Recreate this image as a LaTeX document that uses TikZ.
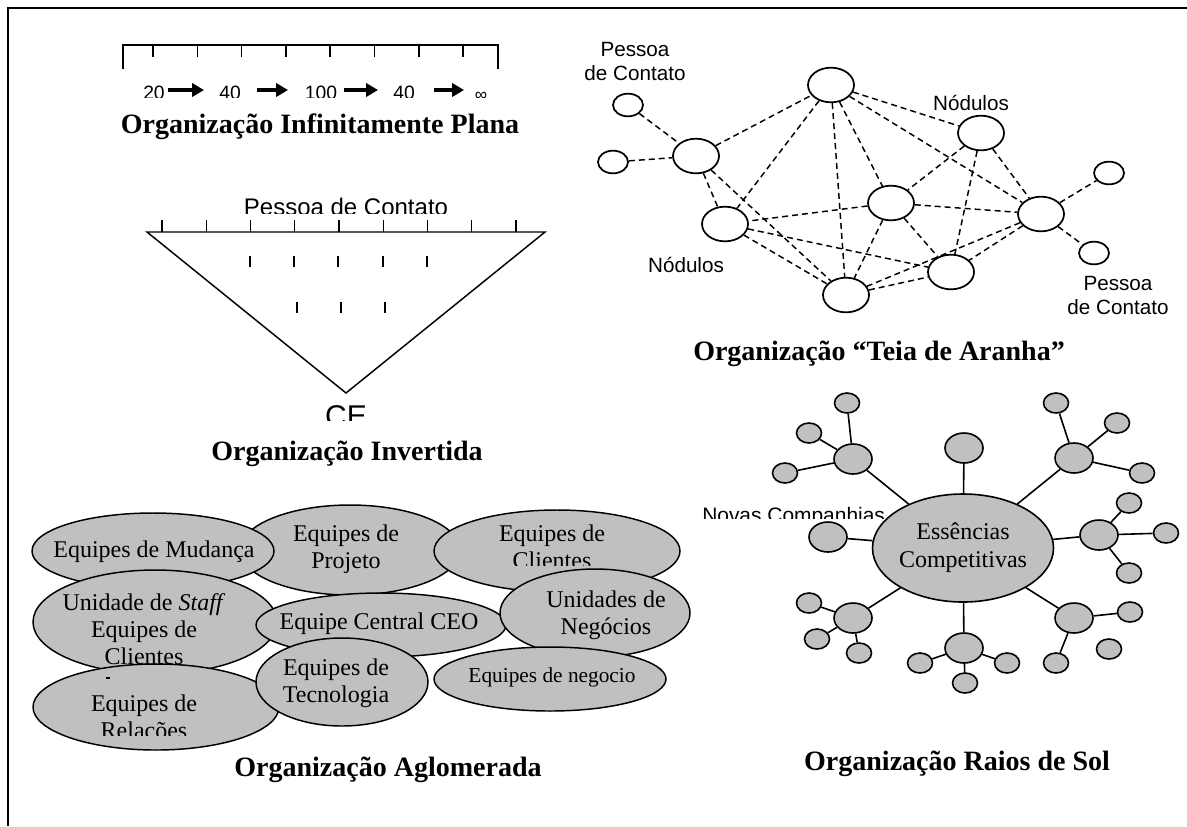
\documentclass[tikz,border=0pt]{standalone}
\usepackage{fontspec}
\setmainfont{Liberation Serif}
\newfontfamily\arialf{Liberation Sans}
\usetikzlibrary{shapes.geometric,arrows.meta}
\definecolor{blobgray}{RGB}{192,192,192}
\begin{document}
\begin{tikzpicture}[x=0.75pt,y=-0.75pt,
  title/.style={font=\fontsize{21}{25}\selectfont\bfseries, inner sep=0, anchor=base},
  thin/.style={line width=1.1pt},
  flatarrow/.style={line width=2.4pt, -{Triangle[length=9pt,width=10pt]}},
  arl/.style={font=\arialf\fontsize{15.5}{18}\selectfont, align=center, inner sep=0},
  web/.style={ellipse, draw, line width=1.3pt, minimum width=34.5pt, minimum height=26pt, inner sep=0},
  webs/.style={ellipse, draw, line width=1.3pt, minimum width=22.5pt, minimum height=17pt, inner sep=0},
  webedge/.style={line width=1.1pt, dash pattern=on 4.5pt off 3pt},
  blob/.style={ellipse, draw, line width=1.1pt, fill=blobgray, inner sep=0},
  btxt/.style={font=\fontsize{18}{20.25}\selectfont, align=center, inner sep=0},
  hub/.style={ellipse, draw, line width=1.2pt, fill=blobgray, minimum width=28.5pt, minimum height=22.5pt, inner sep=0},
  leaf/.style={ellipse, draw, line width=1.2pt, fill=blobgray, minimum width=18.75pt, minimum height=15pt, inner sep=0},
  ray/.style={line width=1.2pt}
]
\useasboundingbox (0,0) rectangle (1187,826);
% frame
\draw[line width=1.6pt] (8,826) -- (8,8) -- (1187,8);

% ---------- Organização Infinitamente Plana ----------
\draw[thin] (123,69) -- (123,45) -- (498,45) -- (498,69);
\foreach \i in {0,...,7} \draw[thin] ({153+44.3*\i},45) -- ({153+44.3*\i},57);
\begin{scope}
\clip (100,60) rectangle (520,97);
\node[font=\arialf\fontsize{14.5}{16}\selectfont, inner sep=0, anchor=base] (d1) at (154,99) {20};
\node[font=\arialf\fontsize{14.5}{16}\selectfont, inner sep=0, anchor=base] (d2) at (230,99) {40};
\node[font=\arialf\fontsize{14.5}{16}\selectfont, inner sep=0, anchor=base] (d3) at (321,99) {100};
\node[font=\arialf\fontsize{14.5}{16}\selectfont, inner sep=0, anchor=base] (d4) at (404,99) {40};
\node[font=\arialf\fontsize{13}{16}\selectfont, inner sep=0, anchor=base] (d5) at (481,100) {∞};
\end{scope}
\coordinate (a1s) at (168,90); \coordinate (a1e) at (204,90);
\coordinate (a2s) at (257,90); \coordinate (a2e) at (288,90);
\coordinate (a3s) at (344,90); \coordinate (a3e) at (378,90);
\coordinate (a4s) at (434,90); \coordinate (a4e) at (464,90);
\draw[flatarrow] (a1s) -- (a1e);
\draw[flatarrow] (a2s) -- (a2e);
\draw[flatarrow] (a3s) -- (a3e);
\draw[flatarrow] (a4s) -- (a4e);
\node[title] (t1) at (320,133) {Organização Infinitamente Plana};

% ---------- Organização Invertida ----------
\draw[thin, line join=miter] (147,232) -- (545,232) -- (346,393) -- cycle;
\foreach \i in {0,...,8} \draw[thin] ({162+44.25*\i},220) -- ({162+44.25*\i},232);
\foreach \x in {250,294,338,383,427} \draw[thin] (\x,256) -- (\x,267);
\foreach \x in {297,341,385} \draw[thin] (\x,302) -- (\x,313);
\begin{scope}
\clip (140,180) rectangle (560,213);
\node[font=\arialf\fontsize{18}{20}\selectfont, inner sep=0, anchor=base] (pc) at (346,215) {Pessoa de Contato};
\end{scope}
\begin{scope}
\clip (300,398) rectangle (400,420);
\node[font=\arialf\fontsize{22.5}{25}\selectfont, inner sep=0, anchor=base] (ce) at (346,426.5) {CE};
\end{scope}
\node[title] (t2) at (347,460) {Organização Invertida};

% ---------- Organização "Teia de Aranha" ----------
\node[webs] (sTL) at (628,105) {};
\node[webs] (sL)  at (613,162) {};
\node[web]  (nL)  at (696,156) {};
\node[web]  (nT)  at (831,85) {};
\node[web]  (nN)  at (981,133) {};
\node[web]  (nC)  at (891,203) {};
\node[web]  (nLL) at (725,224) {};
\node[web]  (nR)  at (1041,214) {};
\node[webs] (sRT) at (1109,173) {};
\node[webs] (sRB) at (1094,253) {};
\node[web]  (nBR) at (951,272) {};
\node[web]  (nB)  at (846,295) {};
\foreach \a/\b in {sTL/nL, sL/nL, nL/nT, nL/nLL, nL/nB, nT/nLL, nT/nB, nT/nC, nT/nN, nT/nR,
  nN/nC, nN/nR, nN/nBR, nC/nLL, nC/nR, nC/nB, nC/nBR, nLL/nBR, nLL/nB, nR/nB, nR/nBR,
  nB/nBR, nR/sRT, nR/sRB}
  \draw[webedge] (\a) -- (\b);
\node[arl] (lpc1) at (635,61) {Pessoa\\de Contato};
\node[arl] (lno1) at (971,103) {Nódulos};
\node[arl] (lno2) at (686,265) {Nódulos};
\node[arl] (lpc2) at (1118,295) {Pessoa\\de Contato};
\node[title] (t3) at (879,360) {Organização “Teia de Aranha”};

% ---------- Organização Aglomerada ----------
\node[blob, minimum width=165pt, minimum height=67.5pt] (proj) at (350,550) {};
\node[btxt] at (346,549) {Equipes de\\Projeto};
\node[blob, minimum width=181.5pt, minimum height=57pt] (mud) at (153,551) {};
\node[btxt] at (154,552) {Equipes de Mudança};
\node[blob, minimum width=184.5pt, minimum height=61.5pt] (cli) at (557,551) {};
\begin{scope}
\clip (440,500) rectangle (680,565);
\node[btxt] at (552,547) {Equipes de\\Clientes};
\end{scope}
\node[blob, minimum width=183pt, minimum height=78pt] (staff) at (155,622) {};
\node[btxt] at (144,629.5) {Unidade de \textit{Staff}\\Equipes de\\Clientes};
\node[blob, minimum width=187.5pt, minimum height=48pt] (ceo) at (381,625) {};
\node[btxt] at (379,624) {Equipe Central CEO};
\node[blob, minimum width=142.5pt, minimum height=66pt] (neg) at (595,613) {};
\node[btxt] at (606,615) {Unidades de\\Negócios};
\node[blob, minimum width=184.5pt, minimum height=64.5pt] (rel) at (156,707) {};
\draw[line width=0.9pt] (106,678) -- (110,678);
\begin{scope}
\clip (40,680) rectangle (270,735);
\node[btxt] at (144,719) {Equipes de\\Relações};
\end{scope}
\node[blob, minimum width=129pt, minimum height=66pt] (tec) at (342,682) {};
\node[btxt] at (336,683) {Equipes de\\Tecnologia};
\node[blob, minimum width=174pt, minimum height=48pt] (ngc) at (550,679) {};
\node[btxt, font=\fontsize{16}{18}\selectfont] at (552,677) {Equipes de negocio};
\node[title] (t4) at (388,776) {Organização Aglomerada};

% ---------- Organização Raios de Sol ----------
\node[ellipse, draw, line width=1.2pt, fill=blobgray, minimum width=120pt, minimum height=81pt, inner sep=0,
  font=\fontsize{18}{21}\selectfont, align=center] (ess) at (963,548) {Essências\\Competitivas};
\node[hub] (top) at (964,448) {};
\node[hub] (lft) at (828,537) {};
\node[hub] (hUL) at (853,459) {};
\node[hub] (hUR) at (1074,458) {};
\node[hub] (hR)  at (1099,535) {};
\node[hub] (hLL) at (853,618) {};
\node[hub] (hB)  at (964,648) {};
\node[hub] (hLR) at (1074,618) {};
\node[leaf] (ul1) at (847,403) {};
\node[leaf] (ul2) at (809,433) {};
\node[leaf] (ul3) at (785,473) {};
\node[leaf] (ur1) at (1056,403) {};
\node[leaf] (ur2) at (1117,423) {};
\node[leaf] (ur3) at (1142,473) {};
\node[leaf] (r1)  at (1129,503) {};
\node[leaf] (r2)  at (1166,533) {};
\node[leaf] (r3)  at (1129,573) {};
\node[leaf] (ll1) at (809,603) {};
\node[leaf] (ll2) at (817,639) {};
\node[leaf] (ll3) at (859,653) {};
\node[leaf] (b1)  at (920,663) {};
\node[leaf] (b2)  at (1007,663) {};
\node[leaf] (b3)  at (965,683) {};
\node[leaf] (lr1) at (1130,612) {};
\node[leaf] (lr2) at (1056,663) {};
\node[leaf] (lr3) at (1109,649) {};
\foreach \a/\b in {ess/top, ess/lft, ess/hUL, ess/hUR, ess/hR, ess/hLL, ess/hB, ess/hLR,
  hUL/ul1, hUL/ul2, hUL/ul3, hUR/ur1, hUR/ur2, hUR/ur3, hR/r1, hR/r2, hR/r3,
  hLL/ll1, hLL/ll2, hLL/ll3, hB/b1, hB/b2, hB/b3, hLR/lr1, hLR/lr2}
  \draw[ray] (\a) -- (\b);
\begin{scope}
\clip (690,495) rectangle (885,518);
\node[font=\arialf\fontsize{15.7}{18}\selectfont, inner sep=0, anchor=base west] (nc) at (702,522) {Novas Companhias};
\end{scope}
\node[title] (t5) at (957,770) {Organização Raios de Sol};
\end{tikzpicture}
\end{document}
